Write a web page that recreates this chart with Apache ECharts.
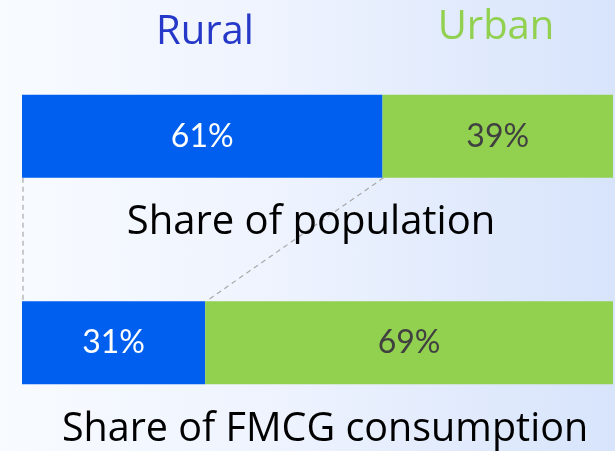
<!DOCTYPE html>
<html>
<head>
<meta charset="utf-8">
<script src="https://cdn.jsdelivr.net/npm/echarts@6/dist/echarts.min.js"></script>
<style>
html,body{margin:0;padding:0;}
#c{width:615px;height:451px;background:linear-gradient(90deg,#f8fbff 0%,#eef3fe 45%,#d7e4fb 100%);}
</style>
</head>
<body>
<div id="c"></div>
<script>
var categories = ['Share of population', 'Share of FMCG consumption'];
var seriesNames = ['Rural', 'Urban'];
var rural = [61, 31];
var urban = [39, 69];

var FONT = 'Open Sans';
var LFONT = 'Lato';
var chart = echarts.init(document.getElementById('c'), null, {renderer: 'canvas'});
var BAR_W = 83;

// connectors: left edge and rural/urban boundary
var connectors = [[0, 0], [rural[0], rural[1]]];

chart.setOption({
  backgroundColor: 'transparent',
  animation: false,
  textStyle: {fontFamily: FONT},
  title: [
    {text: seriesNames[0], left: 200, top: 8, textAlign: 'center',
     textStyle: {fontFamily: FONT, fontSize: 40, fontWeight: 'normal', color: '#2538c8'}},
    {text: seriesNames[1], left: 491, top: 3, textAlign: 'center',
     textStyle: {fontFamily: FONT, fontSize: 40, fontWeight: 'normal', color: '#92d050'}},
    {text: categories[0], left: 306, top: 198, textAlign: 'center',
     textStyle: {fontFamily: FONT, fontSize: 40, fontWeight: 'normal', color: '#000'}},
    {text: categories[1], left: 320, top: 405, textAlign: 'center',
     textStyle: {fontFamily: FONT, fontSize: 39.5, fontWeight: 'normal', color: '#000'}}
  ],
  grid: {left: 22, right: 2, top: 33, bottom: 5, containLabel: false},
  xAxis: {type: 'value', min: 0, max: 100, show: false},
  yAxis: {type: 'category', data: categories, inverse: true, show: false},
  series: [
    {name: seriesNames[0], type: 'bar', stack: 's', data: rural, barWidth: BAR_W,
     itemStyle: {color: '#005fee'},
     label: {show: true, position: 'inside', formatter: '{c}%', color: '#fff',
             fontFamily: LFONT, fontSize: 32}},
    {name: seriesNames[1], type: 'bar', stack: 's', data: urban, barWidth: BAR_W,
     itemStyle: {color: '#92d050'},
     label: {show: true, position: 'inside', formatter: '{c}%', color: '#404040',
             fontFamily: LFONT, fontSize: 32}},
    {type: 'custom', data: connectors, z: 1,
     renderItem: function (params, api) {
       var a = api.coord([api.value(0), 0]);
       var b = api.coord([api.value(1), 1]);
       var h = BAR_W / 2;
       return {
         type: 'line',
         shape: {x1: a[0] + 1, y1: a[1] + h, x2: b[0] + 1, y2: b[1] - h},
         style: {stroke: '#a8a8a8', lineWidth: 1.2, lineDash: [5, 4]}
       };
     }}
  ]
});
</script>
</body>
</html>
